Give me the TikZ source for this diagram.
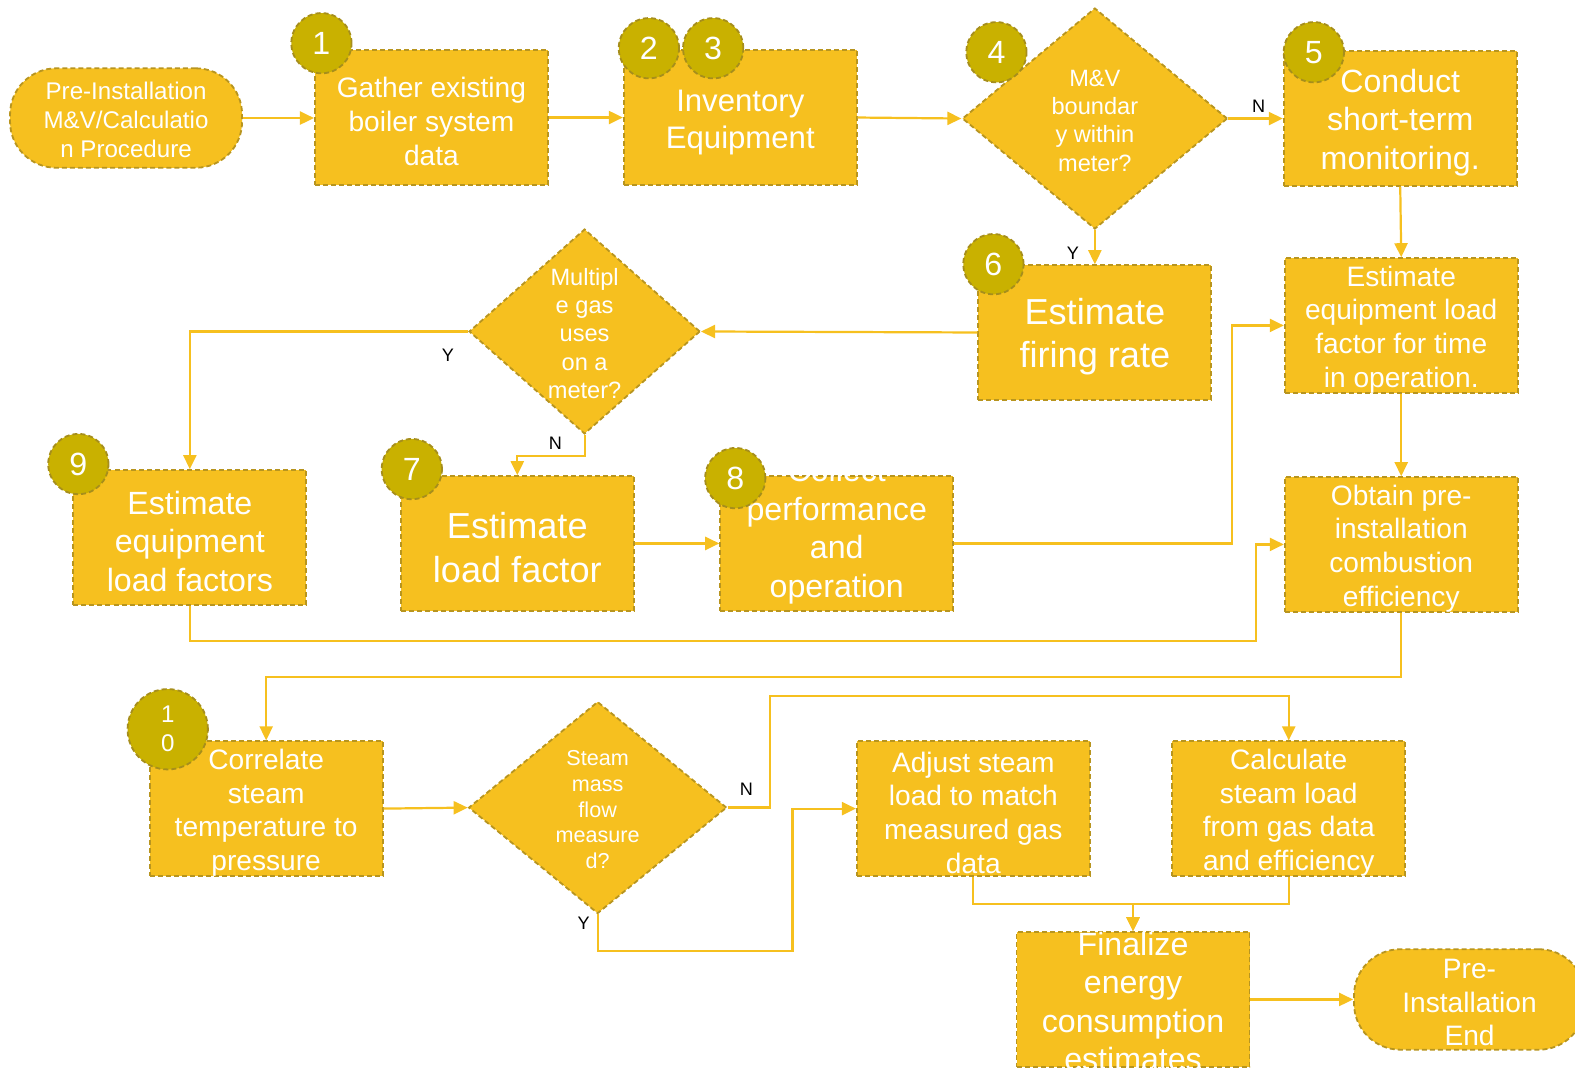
\documentclass[tikz,border=0pt]{standalone}
\usepackage{fontspec}
\setmainfont{Liberation Sans}
\usetikzlibrary{shapes.geometric,arrows.meta}
\definecolor{fillY}{HTML}{F6C01F}
\definecolor{edgeY}{HTML}{B8951F}
\definecolor{circY}{HTML}{C9B100}
\definecolor{circE}{HTML}{A68E1C}
\definecolor{lineY}{HTML}{F6C01F}
\newcommand{\fs}[1]{\fontsize{#1}{\fpeval{1.2*#1}}\selectfont}
\begin{document}
\begin{tikzpicture}[x=1pt,y=-1pt,
  shp/.style={draw=edgeY, fill=fillY, dash pattern=on 5pt off 3pt, line width=1.8pt, inner sep=0pt},
  box/.style={shp, rectangle, minimum width=232pt, minimum height=134pt},
  dec/.style={shp, diamond},
  term/.style={shp, rectangle, rounded corners=46pt},
  txt/.style={text=white, align=center, inner sep=0pt},
  btxt/.style={txt, yshift=-4pt},
  num/.style={circle, draw=circE, fill=circY, dash pattern=on 5pt off 3pt, line width=1.8pt, minimum size=60pt, inner sep=0pt, text=white, font=\fs{32}},
  flow/.style={draw=lineY, line width=2.2pt, -{Triangle[length=14pt,width=13pt]}},
  yn/.style={font=\fs{18}, text=black, inner sep=0pt}
]
\useasboundingbox (0,0) rectangle (1568,1066);

% shapes
\node[term, minimum width=231pt, minimum height=99pt] (start) at (125.5,117.5) {};
\node[txt, font=\fs{24}] (startt) at (125.5,119) {Pre-Installation\\M\&V/Calculatio\\n Procedure};

\node[box] (b1) at (429.5,117) {};
\node[btxt, font=\fs{28}] (b1t) at (b1) {Gather existing\\boiler system\\data};

\node[box] (b2) at (737,117) {};
\node[btxt, font=\fs{31}, yshift=-1pt] (b2t) at (b2) {Inventory\\Equipment};

\node[dec, minimum width=264pt, minimum height=220pt] (d4) at (1090,118) {};
\node[txt, font=\fs{23.5}] (d4t) at (1090,120) {M\&V\\boundar\\y within\\meter?};

\node[box] (b5) at (1394,118) {};
\node[btxt, font=\fs{32}] (b5t) at (b5) {Conduct\\short-term\\monitoring.};

\node[box] (b6) at (1090,331) {};
\node[btxt, font=\fs{36}] (b6t) at (b6) {Estimate\\firing rate};

\node[box] (b7r) at (1395,324) {};
\node[btxt, font=\fs{28}] (b7rt) at (b7r) {Estimate\\equipment load\\factor for time\\in operation.};

\node[dec, minimum width=230pt, minimum height=204pt] (d2) at (582,330) {};
\node[txt, font=\fs{23.5}] (d2t) at (582,332) {Multipl\\e gas\\uses\\on a\\meter?};

\node[box] (b9) at (189,535) {};
\node[btxt, font=\fs{32}] (b9t) at (b9) {Estimate\\equipment\\load factors};

\node[box] (b7) at (515,541) {};
\node[btxt, font=\fs{36}] (b7t) at (b7) {Estimate\\load factor};

\node[box] (b8) at (833,541) {};
\node[btxt, font=\fs{32}] (b8t) at (b8) {Collect\\performance\\and\\operation\\data};

\node[box] (bobt) at (1395,542) {};
\node[btxt, font=\fs{28}] (bobtt) at (bobt) {Obtain pre-\\installation\\combustion\\efficiency};

\node[box] (b10) at (265,805) {};
\node[btxt, font=\fs{28}] (b10t) at (b10) {Correlate\\steam\\temperature to\\pressure};

\node[dec, minimum width=257pt, minimum height=211pt] (d3) at (595,804) {};
\node[txt, font=\fs{21.5}] (d3t) at (595,806) {Steam\\mass\\flow\\measure\\d?};

\node[box] (badj) at (969,805) {};
\node[btxt, font=\fs{28}] (badjt) at (badj) {Adjust steam\\load to match\\measured gas\\data};

\node[box] (bcalc) at (1283,805) {};
\node[btxt, font=\fs{28}] (bcalct) at (bcalc) {Calculate\\steam load\\from gas data\\and efficiency};

\node[box] (bfin) at (1128,995) {};
\node[txt, font=\fs{32}] (bfint) at (1128,997) {Finalize\\energy\\consumption\\estimates};

\node[term, minimum width=230pt, minimum height=100pt] (end) at (1463,995) {};
\node[btxt, font=\fs{28}, yshift=1pt] (endt) at (end) {Pre-\\Installation\\End};

% connectors
\draw[flow] (start.east) -- (b1.west |- start.east);
\draw[flow] (b1.east) -- (b2.west);
\draw[flow] (b2.east) -- (d4.west);
\draw[flow] (d4.east) -- (b5.west |- d4.east);
\draw[flow] (d4.south) -- (b6.north);
\draw[flow] (b5.south) -- (b7r.north);
\draw[flow] (b6.west) -- (d2.east);
\draw[flow] (d2.west) -| (b9.north);
\draw[flow] (d2.south) -- ++(0,21) -| (b7.north);
\draw[flow] (b7.east) -- (b8.west);
\draw[flow] (b8.east) -- ++(277,0) |- (b7r.west);
\draw[flow] (b7r.south) -- (bobt.north);
\draw[flow] (b9.south) -- ++(0,35) -| ([xshift=-28pt]bobt.west) -- (bobt.west);
\draw[flow] (bobt.south) -- ++(0,64) -| (b10.north);
\draw[flow] (b10.east) -- (d3.west);
\draw[flow] (d3.east) -- ++(42,0) -- ++(0,-111) -| (bcalc.north);
\draw[flow] (d3.south) -- ++(0,36) -- ++(194,0) |- (badj.west);
\draw[flow] (badj.south) -- ++(0,27) -| (bfin.north);
\draw[flow] (bcalc.south) -- ++(0,27) -| (bfin.north);
\draw[flow] (bfin.east) -- (end.west);

% labels
\node[yn] (lN4) at (1253,106) {N};
\node[yn] (lY4) at (1068,252) {Y};
\node[yn] (lY2) at (446,354) {Y};
\node[yn] (lN2) at (553,441) {N};
\node[yn] (lN3) at (743,786) {N};
\node[yn] (lY3) at (581,919) {Y};

% number circles
\node[num] (c1) at (320,43) {1};
\node[num] (c2) at (646,48) {2};
\node[num] (c3) at (710,48) {3};
\node[num] (c4) at (992,52) {4};
\node[num] (c5) at (1308,52) {5};
\node[num] (c6) at (989,263) {6};
\node[num] (c7) at (410,467) {7};
\node[num] (c8) at (732,476) {8};
\node[num] (c9) at (78,462) {9};
\node[num, minimum size=80pt, font=\fs{24}, align=center] (c10) at (167,726) {1\\0};
\end{tikzpicture}
\end{document}
